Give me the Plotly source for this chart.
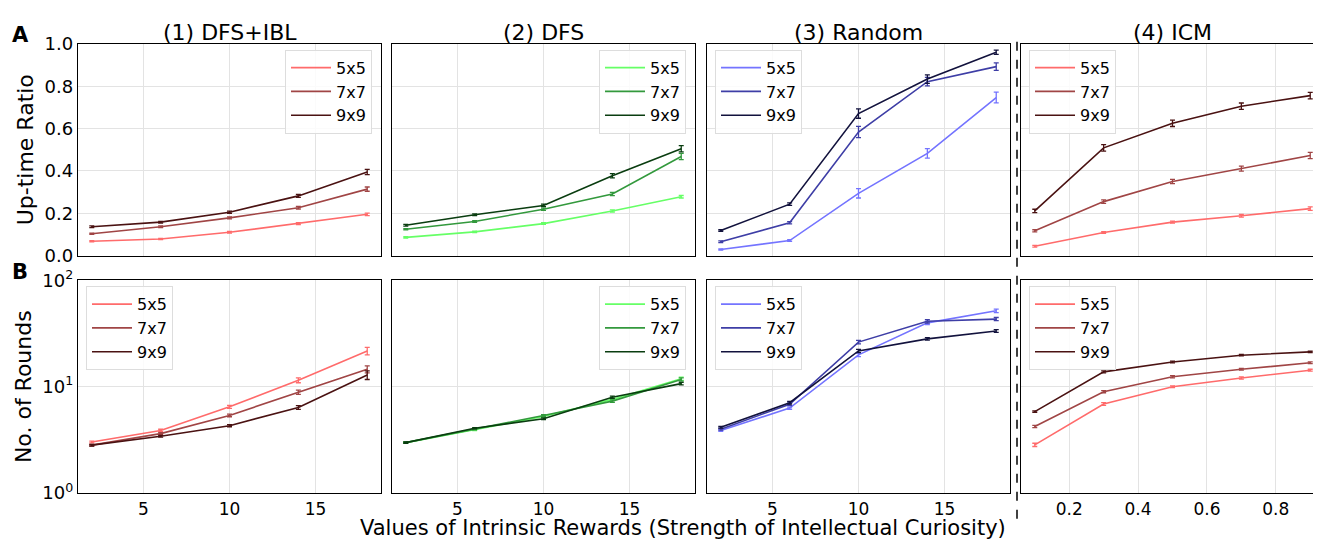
import plotly.graph_objects as go

# x values
rewards = [2, 6, 10, 14, 18]
icm_beta = [0.1, 0.3, 0.5, 0.7, 0.9]
sizes = ["5x5", "7x7", "9x9"]

# (A) up-time ratio
uptime_dfs_ibl = [[0.068, 0.078, 0.110, 0.151, 0.195],
                  [0.103, 0.136, 0.178, 0.226, 0.314],
                  [0.136, 0.158, 0.205, 0.282, 0.395]]
uptime_dfs_ibl_err = [[0.003, 0.003, 0.004, 0.005, 0.006],
                      [0.003, 0.004, 0.005, 0.006, 0.01],
                      [0.004, 0.004, 0.005, 0.007, 0.012]]
uptime_dfs = [[0.086, 0.112, 0.151, 0.211, 0.278],
              [0.124, 0.161, 0.219, 0.291, 0.468],
              [0.143, 0.193, 0.237, 0.377, 0.505]]
uptime_dfs_err = [[0.003, 0.003, 0.004, 0.005, 0.006],
                  [0.003, 0.004, 0.005, 0.008, 0.015],
                  [0.004, 0.004, 0.006, 0.01, 0.015]]
uptime_random = [[0.029, 0.071, 0.294, 0.483, 0.747],
                 [0.065, 0.155, 0.584, 0.822, 0.893],
                 [0.118, 0.243, 0.671, 0.834, 0.961]]
uptime_random_err = [[0.003, 0.004, 0.022, 0.022, 0.025],
                     [0.004, 0.005, 0.027, 0.02, 0.018],
                     [0.004, 0.006, 0.022, 0.02, 0.01]]
uptime_icm = [[0.044, 0.109, 0.158, 0.188, 0.222],
              [0.117, 0.255, 0.350, 0.411, 0.473],
              [0.211, 0.509, 0.625, 0.706, 0.756]]
uptime_icm_err = [[0.004, 0.004, 0.005, 0.006, 0.008],
                  [0.005, 0.008, 0.01, 0.012, 0.015],
                  [0.008, 0.015, 0.015, 0.015, 0.015]]

# (B) number of rounds
rounds_dfs_ibl = [[3.02, 3.88, 6.47, 11.5, 21.7],
                  [2.82, 3.62, 5.37, 8.89, 14.6],
                  [2.82, 3.42, 4.30, 6.38, 12.9]]
rounds_dfs_ibl_err = [[0.06, 0.1, 0.2, 0.6, 1.8],
                      [0.05, 0.08, 0.15, 0.4, 1.1],
                      [0.05, 0.07, 0.1, 0.25, 1.2]]
rounds_dfs = [[2.98, 3.93, 5.25, 7.60, 11.9],
              [2.98, 3.98, 5.36, 7.32, 11.7],
              [2.98, 4.07, 5.00, 7.96, 10.7]]
rounds_dfs_err = [[0.04, 0.06, 0.1, 0.2, 0.4],
                  [0.04, 0.06, 0.1, 0.2, 0.4],
                  [0.04, 0.06, 0.1, 0.2, 0.3]]
rounds_random = [[3.88, 6.29, 19.96, 39.9, 51.8],
                 [3.99, 6.84, 26.3, 41.3, 43.3],
                 [4.15, 7.08, 21.7, 28.2, 33.5]]
rounds_random_err = [[0.08, 0.15, 0.8, 1.5, 2.0],
                     [0.08, 0.2, 1.0, 1.5, 1.5],
                     [0.08, 0.2, 0.8, 0.8, 1.0]]
rounds_icm = [[2.84, 6.88, 10.0, 12.1, 14.3],
              [4.22, 8.98, 12.4, 14.6, 16.8],
              [5.83, 13.8, 17.1, 19.8, 21.3]]
rounds_icm_err = [[0.1, 0.2, 0.2, 0.3, 0.3],
                  [0.1, 0.2, 0.3, 0.3, 0.3],
                  [0.1, 0.3, 0.3, 0.3, 0.3]]

col_titles = ["(1) DFS+IBL", "(2) DFS", "(3) Random", "(4) ICM"]

reds = ["#ff6b6b", "#a04545", "#4a1212"]
greens = ["#66ff66", "#33993d", "#0a3d10"]
blues = ["#7474ff", "#3e3ea6", "#12123d"]

W, H = 1321, 540
px_cols = [(70, 373), (384, 687), (699, 1002), (1013, 1316)]
px_rows = [(24, 245), (271, 493)]

FONT = "DejaVu Sans"
TICK = 17
TITLE = 22

panels = [
    (0, 0, rewards, uptime_dfs_ibl, uptime_dfs_ibl_err, reds, "right"),
    (0, 1, rewards, uptime_dfs, uptime_dfs_err, greens, "right"),
    (0, 2, rewards, uptime_random, uptime_random_err, blues, "left"),
    (0, 3, icm_beta, uptime_icm, uptime_icm_err, reds, "left"),
    (1, 0, rewards, rounds_dfs_ibl, rounds_dfs_ibl_err, reds, "left"),
    (1, 1, rewards, rounds_dfs, rounds_dfs_err, greens, "right"),
    (1, 2, rewards, rounds_random, rounds_random_err, blues, "left"),
    (1, 3, icm_beta, rounds_icm, rounds_icm_err, reds, "left"),
]

fig = go.Figure()
layout = {}
for k, (r, c, xs, ys, errs, colors, lpos) in enumerate(panels):
    idx = k + 1
    xa = "x" if idx == 1 else f"x{idx}"
    ya = "y" if idx == 1 else f"y{idx}"
    lg = "legend" if idx == 1 else f"legend{idx}"
    for s in range(3):
        fig.add_trace(go.Scatter(
            x=xs, y=ys[s], mode="lines", name=sizes[s],
            line=dict(color=colors[s], width=1.6),
            error_y=dict(type="data", array=errs[s], color=colors[s], thickness=1.3, width=2.5),
            xaxis=xa, yaxis=ya, legend=lg, showlegend=True,
        ))
    x0, x1 = px_cols[c]
    y0, y1 = px_rows[r]
    if c < 3:
        xrange = [1.2, 18.8]
        xticks = [5, 10, 15]
        xtext = ["5", "10", "15"]
    else:
        xrange = [0.06, 0.94]
        xticks = [0.2, 0.4, 0.6, 0.8]
        xtext = ["0.2", "0.4", "0.6", "0.8"]
    layout["xaxis" if idx == 1 else f"xaxis{idx}"] = dict(
        domain=[x0 / W, x1 / W], anchor=ya, range=xrange,
        tickvals=xticks, ticktext=xtext, showticklabels=(r == 1),
        showgrid=True, gridcolor="#e3e3e3", gridwidth=1, zeroline=False,
        showline=True, linecolor="black", linewidth=1.3, mirror=True,
        ticks="", tickfont=dict(size=TICK, family=FONT, color="black"),
    )
    if r == 0:
        yax = dict(range=[0, 1], tickvals=[0, 0.2, 0.4, 0.6, 0.8, 1.0],
                   ticktext=["0.0", "0.2", "0.4", "0.6", "0.8", "1.0"])
    else:
        yax = dict(type="log", range=[0, 2], tickvals=[1, 10, 100],
                   ticktext=["10<sup>0</sup>", "10<sup>1</sup>", "10<sup>2</sup>"])
    yax.update(
        domain=[1 - y1 / H, 1 - y0 / H], anchor=xa, showticklabels=(c == 0),
        showgrid=True, gridcolor="#e3e3e3", gridwidth=1, zeroline=False,
        showline=True, linecolor="black", linewidth=1.3, mirror=True,
        ticks="", tickfont=dict(size=TICK + 1, family=FONT, color="black"),
    )
    if c == 0:
        yax["title"] = dict(text="Up-time Ratio" if r == 0 else "No. of Rounds",
                            font=dict(size=TITLE, family=FONT, color="black"), standoff=4)
    layout["yaxis" if idx == 1 else f"yaxis{idx}"] = yax
    if lpos == "right":
        lx, xanc = (x1 - 9) / W, "right"
    else:
        lx, xanc = (x0 + 8) / W, "left"
    layout[lg] = dict(
        x=lx, y=1 - (y0 + 6) / H, xanchor=xanc, yanchor="top",
        xref="paper", yref="paper",
        bgcolor="rgba(255,255,255,0.85)", bordercolor="#dddddd", borderwidth=1,
        font=dict(size=16, family=FONT, color="black"),
        itemwidth=40, tracegroupgap=0,
    )

annotations = []
for c, t in enumerate(col_titles):
    x0, x1 = px_cols[c]
    annotations.append(dict(text=t, x=(x0 + x1) / 2 / W, y=1 - 12 / H, xref="paper", yref="paper",
                            showarrow=False, xanchor="center", yanchor="middle",
                            font=dict(size=TITLE, family=FONT, color="black")))
annotations.append(dict(text="<b>A</b>", x=12 / W, y=1 - 15 / H, xref="paper", yref="paper",
                        showarrow=False, xanchor="center", yanchor="middle",
                        font=dict(size=21, family=FONT, color="black")))
annotations.append(dict(text="<b>B</b>", x=12 / W, y=1 - 262 / H, xref="paper", yref="paper",
                        showarrow=False, xanchor="center", yanchor="middle",
                        font=dict(size=21, family=FONT, color="black")))
annotations.append(dict(text="Values of Intrinsic Rewards (Strength of Intellectual Curiosity)",
                        x=675 / W, y=1 - 530 / H, xref="paper", yref="paper",
                        showarrow=False, xanchor="center", yanchor="middle",
                        font=dict(size=21, family=FONT, color="black")))

fig.update_layout(
    width=W, height=H,
    margin=dict(l=0, r=0, t=0, b=0),
    paper_bgcolor="white", plot_bgcolor="white",
    annotations=annotations,
    shapes=[dict(type="line", xref="paper", yref="paper",
                 x0=1009 / W, x1=1009 / W, y0=1 - 520 / H, y1=1 - 14 / H,
                 line=dict(color="black", width=1.5, dash="dash"))],
    **layout,
)

fig.write_html("out.html")
